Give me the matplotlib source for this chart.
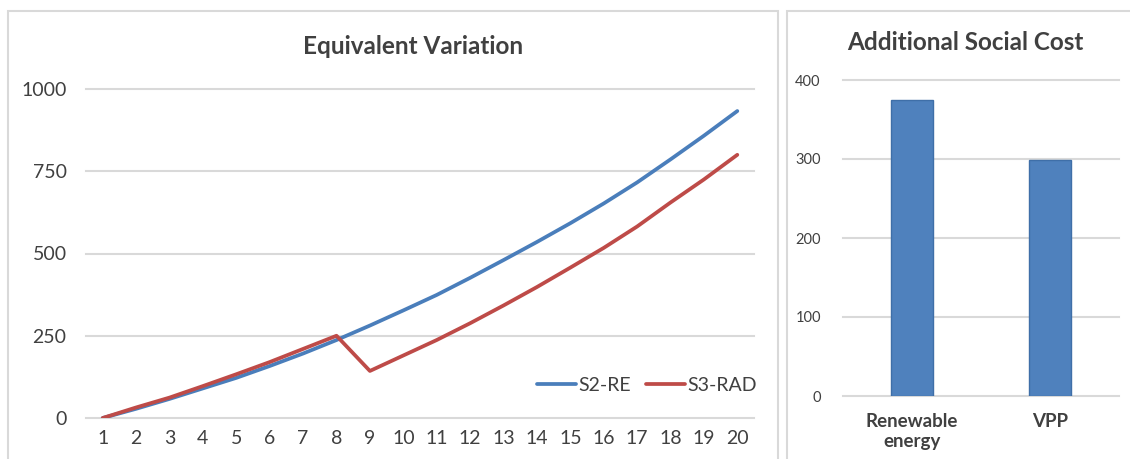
import matplotlib
matplotlib.use("Agg")
import matplotlib.pyplot as plt
from matplotlib.patches import Rectangle
import numpy as np

plt.rcParams['font.family'] = ['Lato', 'DejaVu Sans']

# données
periods = list(range(1, 21))
s2_re = [0, 28, 58, 90, 122, 158, 196, 237, 281, 327, 374, 426, 480, 535, 592, 652, 716, 786, 858, 933]
s3_rad = [0, 32, 62, 97, 133, 170, 210, 250, 143, 190, 237, 288, 342, 398, 457, 517, 582, 655, 725, 800]

cost_labels = ["Renewable\nenergy", "VPP"]
cost_values = [375, 299]

BLUE = "#4A7EBB"
RED = "#BE4B48"
GRID = "#d9d9d9"
TXT = "#404040"

W, H = 1130, 459
fig = plt.figure(figsize=(W / 100, H / 100), dpi=100)


def box(x0, y0, x1, y1):
    # rectangle en pixels (y depuis le haut)
    return [x0 / W, 1 - y1 / H, (x1 - x0) / W, (y1 - y0) / H]


# cadres des deux graphiques
for (x0, y0, x1, y1) in [(8, 11, 778, 470), (787, 11, 1140, 470)]:
    b = box(x0, y0, x1, y1)
    fig.patches.append(Rectangle((b[0], b[1]), b[2], b[3], transform=fig.transFigure,
                                 fill=False, edgecolor=GRID, linewidth=1.5, clip_on=False))

# --- Equivalent Variation ---
ax = fig.add_axes(box(86, 89, 754, 418))
ax.plot(periods, s2_re, color=BLUE, lw=2.7, label="S2-RE", solid_capstyle="round")
ax.plot(periods, s3_rad, color=RED, lw=2.7, label="S3-RAD", solid_capstyle="round")
ax.set_xlim(0.5, 20.5)
ax.set_ylim(0, 1000)
ax.set_yticks([0, 250, 500, 750, 1000])
ax.set_xticks(periods)
ax.grid(axis="y", color=GRID, lw=1.5)
ax.set_axisbelow(True)
for s in ax.spines.values():
    s.set_visible(False)
ax.tick_params(length=0, labelsize=14, colors=TXT, pad=14)
ax.tick_params(axis="x", pad=9)
for gl in ax.get_ygridlines():
    gl.set_clip_on(False)
ax.legend(loc="lower right", bbox_to_anchor=(1.03, 0.02), ncol=2, frameon=False,
          fontsize=14, handlelength=2.0, handletextpad=0.1, columnspacing=0.8,
          labelcolor=TXT)
fig.text(413 / W, 1 - 47 / H, "Equivalent Variation", ha="center", va="center",
         fontsize=17.5, fontweight="bold", color=TXT)

# --- Additional Social Cost ---
ax2 = fig.add_axes(box(843, 80, 1119, 396))
x = np.arange(len(cost_labels))
ax2.bar(x, cost_values, width=0.31, color="#4F81BD", edgecolor="#3F6FA8", lw=1)
ax2.set_xlim(-0.5, 1.5)
ax2.set_ylim(0, 400)
ax2.set_yticks([0, 100, 200, 300, 400])
ax2.set_xticks(x)
ax2.set_xticklabels(cost_labels, fontweight="bold", fontsize=13.5, linespacing=1.25)
ax2.grid(axis="y", color=GRID, lw=1.5)
ax2.set_axisbelow(True)
for s in ax2.spines.values():
    s.set_visible(False)
ax2.tick_params(length=0, colors=TXT)
ax2.tick_params(axis="y", labelsize=10.5, pad=16)
ax2.tick_params(axis="x", pad=12)
for gl in ax2.get_ygridlines():
    gl.set_clip_on(False)
fig.text(965 / W, 1 - 43 / H, "Additional Social Cost", ha="center", va="center",
         fontsize=17.5, fontweight="bold", color=TXT)

fig.savefig("out.png", dpi=100)
